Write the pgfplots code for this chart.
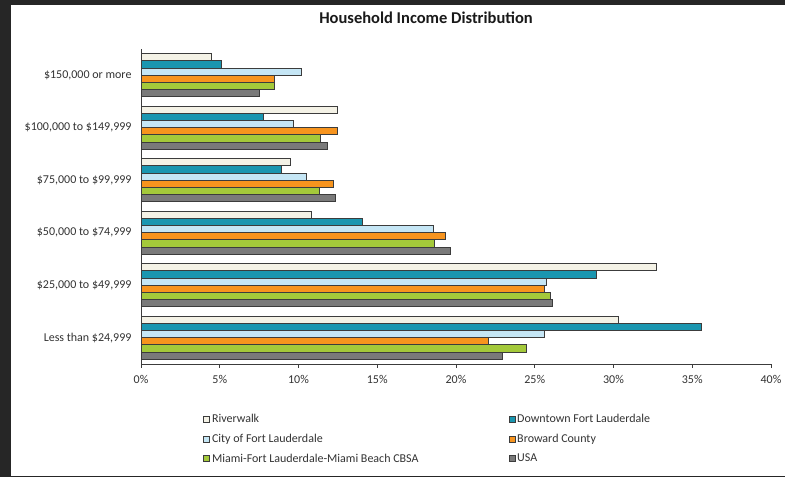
\documentclass[border=0pt]{standalone}
\usepackage{pgfplots}
\pgfplotsset{compat=1.18}
\usepackage{fontspec}
\setmainfont{Carlito}
\definecolor{cRiver}{HTML}{F4F2E6}
\definecolor{cDown}{HTML}{1A96B0}
\definecolor{cCity}{HTML}{C5E6F5}
\definecolor{cBrow}{HTML}{F7941E}
\definecolor{cMiami}{HTML}{A4C93A}
\definecolor{cUSA}{HTML}{7A7A7A}
\definecolor{cEdge}{HTML}{3C3C3C}
\definecolor{cText}{HTML}{333333}
\begin{document}
\begin{tikzpicture}[x=1bp,y=1bp]
\path[use as bounding box] (0,0) rectangle (785,477);
\fill[black!85] (0,0) rectangle (785,477);
\fill[white] (11,1) rectangle (785,472);
\node[font=\fontsize{16.5bp}{19bp}\selectfont\bfseries, text=black!90] at (426,459) {Household Income Distribution};
\begin{axis}[
  at={(141bp,113bp)}, anchor=south west,
  scale only axis, width=630bp, height=315bp,
  xmin=0, xmax=40, ymin=-0.5, ymax=5.5,
  axis x line*=bottom, axis y line*=left,
  axis line style={cEdge, line width=0.8bp},
  xtick={0,5,...,40},
  xticklabels={0\%,5\%,10\%,15\%,20\%,25\%,30\%,35\%,40\%},
  xtick style={cEdge, line width=0.8bp},
  major tick length=4bp,
  tick align=outside,
  ytick={0,...,5},
  yticklabels={{Less than \$24,999},{\$25,000 to \$49,999},{\$50,000 to \$74,999},{\$75,000 to \$99,999},{\$100,000 to \$149,999},{\$150,000 or more}},
  ytick style={draw=none},
  minor ytick={-0.5,0.5,...,5.5},
  minor tick length=4bp,
  minor tick style={cEdge, line width=0.8bp},
  tick label style={font=\fontsize{12bp}{14bp}\selectfont, text=cText},
  yticklabel style={xshift=-2bp},
  xticklabel style={yshift=-4bp},
  bar width=0.137,
  legend columns=2,
  legend style={draw=none, fill=none, at={(axis description cs:0.094,-0.146)}, anchor=north west,
    font=\fontsize{12bp}{14bp}\selectfont, text=cText, cells={anchor=west},
    /tikz/every even column/.append style={column sep=88bp}, row sep=6bp},
  legend image code/.code={\draw[#1, line width=0.6bp] (0bp,-3bp) rectangle (6bp,3bp);},
  every axis plot/.append style={draw=cEdge, line width=0.9bp},
]
\addplot[xbar, bar shift=0.3425, fill=cRiver] coordinates {(4.5,5) (12.5,4) (9.5,3) (10.85,2) (32.75,1) (30.3,0)};
\addlegendentry{Riverwalk}
\addplot[xbar, bar shift=0.2055, fill=cDown] coordinates {(5.1,5) (7.8,4) (8.9,3) (14.05,2) (28.9,1) (35.6,0)};
\addlegendentry{Downtown Fort Lauderdale}
\addplot[xbar, bar shift=0.0685, fill=cCity] coordinates {(10.2,5) (9.7,4) (10.5,3) (18.55,2) (25.75,1) (25.6,0)};
\addlegendentry{City of Fort Lauderdale}
\addplot[xbar, bar shift=-0.0685, fill=cBrow] coordinates {(8.5,5) (12.5,4) (12.25,3) (19.35,2) (25.6,1) (22.05,0)};
\addlegendentry{Broward County}
\addplot[xbar, bar shift=-0.2055, fill=cMiami] coordinates {(8.5,5) (11.4,4) (11.3,3) (18.6,2) (26.0,1) (24.5,0)};
\addlegendentry{Miami-Fort Lauderdale-Miami Beach CBSA}
\addplot[xbar, bar shift=-0.3425, fill=cUSA] coordinates {(7.5,5) (11.85,4) (12.35,3) (19.65,2) (26.1,1) (22.95,0)};
\addlegendentry{USA}
\end{axis}
\end{tikzpicture}
\end{document}
